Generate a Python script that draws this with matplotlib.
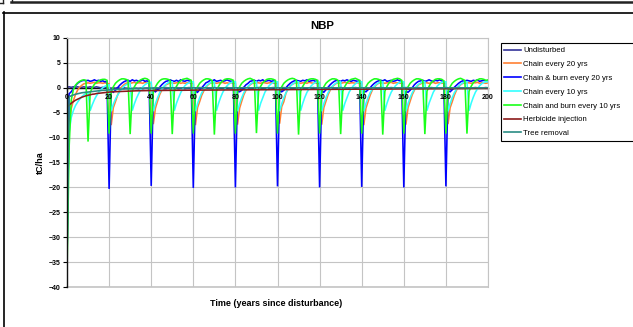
import matplotlib
matplotlib.use("Agg")
import matplotlib.pyplot as plt
from matplotlib.lines import Line2D

plt.rcParams['font.family'] = ['Liberation Sans', 'DejaVu Sans']

# ---------------------------------------------------------------- data
years = list(range(0, 201))

undisturbed = [
    0.1, 0.2, 0.1, 0.2, 0.1, 0.2, 0.1, 0.1, 0.2, 0.1,
    0.1, 0.2, 0.1, 0.1, 0.2, 0.1, 0.0, 0.1, 0.0, 0.1,
    0.0, -0.1, 0.0, -0.1, 0.0, -0.1, -0.1, 0.0, -0.1, -0.1,
    -0.1, -0.2, -0.1, -0.1, -0.2, -0.1, -0.2, -0.1, -0.1, -0.2,
    -0.2, -0.1, -0.3, -0.2, -0.2, -0.1, -0.2, -0.2, -0.1, -0.2,
    -0.1, -0.2, -0.1, -0.2, -0.1, -0.1, -0.2, -0.1, -0.1, -0.1,
    -0.1, -0.2, -0.1, -0.1, 0.0, -0.1, -0.1, 0.0, -0.1, 0.0,
    -0.1, 0.0, -0.1, 0.0, 0.0, -0.1, 0.0, 0.0, -0.1, 0.0,
    0.0, -0.2, -0.3, -0.2, -0.1, 0.0, 0.0, -0.1, 0.0, 0.0,
    0.0, -0.1, 0.0, 0.0, -0.1, 0.0, 0.0, -0.1, 0.0, 0.0,
    -0.1, -0.3, -0.4, -0.2, -0.1, 0.0, -0.1, 0.0, 0.0, -0.1,
    0.0, 0.0, -0.1, 0.0, 0.0, -0.1, 0.0, 0.0, 0.0, -0.1,
    0.0, -0.2, -0.3, -0.2, -0.1, 0.0, 0.0, -0.1, 0.0, 0.0,
    -0.1, 0.0, 0.0, -0.1, 0.0, 0.0, -0.1, 0.0, 0.0, 0.0,
    -0.1, -0.3, -0.3, -0.2, -0.1, 0.0, -0.1, 0.0, 0.0, -0.1,
    0.0, 0.0, -0.1, 0.0, 0.0, 0.0, -0.1, 0.0, 0.0, 0.0,
    0.0, -0.2, -0.3, -0.2, -0.1, 0.0, 0.0, -0.1, 0.0, 0.0,
    -0.1, 0.0, 0.0, 0.0, -0.1, 0.0, 0.0, 0.0, -0.1, 0.0,
    0.0, -0.2, -0.3, -0.2, -0.1, -0.1, 0.0, 0.0, -0.1, 0.0,
    0.0, -0.1, 0.0, 0.0, 0.0, -0.1, 0.0, 0.0, 0.0, -0.1,
    0.0,
]

chain_20 = [
    -28.0, -7.5, -4.2, -2.6, -1.4, -0.5, 0.1, 0.5, 0.8, 0.9,
    1.0, 0.9, 1.0, 1.1, 0.9, 1.0, 1.0, 0.9, 1.0, 0.9,
    0.8, -7.5, -4.0, -2.8, -1.5, -0.5, 0.2, 0.6, 0.9, 1.0,
    0.9, 1.0, 1.1, 0.9, 1.0, 1.0, 0.9, 1.1, 1.0, 0.9,
    0.9, -7.3, -4.1, -2.7, -1.4, -0.5, 0.2, 0.6, 0.8, 1.0,
    1.0, 0.9, 1.0, 1.1, 0.9, 1.0, 0.9, 1.0, 1.0, 0.9,
    0.9, -7.5, -4.0, -2.8, -1.5, -0.6, 0.1, 0.6, 0.9, 1.0,
    1.0, 0.9, 1.0, 1.0, 1.1, 0.9, 1.0, 0.9, 1.0, 1.0,
    0.9, -7.4, -4.1, -2.7, -1.4, -0.5, 0.2, 0.6, 0.9, 0.9,
    1.0, 1.0, 0.9, 1.1, 1.0, 0.9, 1.0, 1.0, 0.9, 1.0,
    0.9, -7.2, -3.8, -2.8, -1.1, -0.2, 0.4, 0.7, 0.9, 1.0,
    1.0, 0.9, 1.0, 1.0, 0.9, 1.1, 1.0, 0.9, 1.0, 0.9,
    0.9, -7.4, -4.0, -2.7, -1.4, -0.5, 0.2, 0.6, 0.9, 1.0,
    0.9, 1.0, 1.1, 1.0, 0.9, 1.0, 1.0, 0.9, 1.0, 1.0,
    0.9, -7.5, -4.1, -2.8, -1.5, -0.5, 0.1, 0.6, 0.9, 1.0,
    1.0, 0.9, 1.0, 1.0, 1.1, 0.9, 1.0, 1.0, 0.9, 1.0,
    0.9, -7.4, -4.0, -2.7, -1.4, -0.5, 0.2, 0.6, 0.8, 1.0,
    1.0, 1.0, 0.9, 1.0, 1.1, 0.9, 1.0, 1.0, 0.9, 1.0,
    0.9, -7.3, -4.0, -2.8, -1.5, -0.5, 0.2, 0.6, 0.9, 0.9,
    1.0, 1.0, 0.9, 1.0, 1.0, 1.1, 0.9, 1.0, 1.0, 0.9,
    1.0,
]

chain_burn_20 = [
    -35.0, -1.2, -0.8, -0.2, 0.4, 0.9, 1.2, 1.4, 1.5, 1.4,
    1.5, 1.3, 1.4, 1.6, 1.4, 1.5, 1.3, 1.4, 1.2, 1.3,
    -20.3, -0.6, -0.9, -0.5, 0.0, 0.5, 0.9, 1.2, 1.4, 1.5,
    1.3, 1.6, 1.4, 1.5, 1.3, 1.4, 1.6, 1.3, 1.4, 1.2,
    -19.7, -0.5, -0.8, -0.4, 0.1, 0.6, 1.0, 1.3, 1.4, 1.6,
    1.4, 1.3, 1.5, 1.3, 1.6, 1.4, 1.3, 1.5, 1.4, 1.3,
    -20.1, -0.6, -0.9, -0.4, 0.0, 0.5, 1.0, 1.2, 1.5, 1.4,
    1.6, 1.3, 1.4, 1.5, 1.3, 1.4, 1.6, 1.4, 1.3, 1.4,
    -20.0, -0.7, -0.8, -0.5, 0.1, 0.6, 0.9, 1.3, 1.4, 1.5,
    1.3, 1.5, 1.4, 1.6, 1.3, 1.4, 1.5, 1.3, 1.4, 1.3,
    -19.8, -0.5, -0.8, -0.5, 0.0, 0.5, 0.9, 1.2, 1.4, 1.5,
    1.4, 1.3, 1.5, 1.4, 1.6, 1.3, 1.4, 1.5, 1.3, 1.4,
    -20.0, -0.6, -0.9, -0.4, 0.1, 0.6, 1.0, 1.3, 1.5, 1.4,
    1.3, 1.5, 1.4, 1.6, 1.4, 1.3, 1.5, 1.4, 1.3, 1.4,
    -19.9, -0.6, -0.8, -0.4, 0.0, 0.5, 0.9, 1.2, 1.4, 1.5,
    1.4, 1.6, 1.3, 1.4, 1.5, 1.3, 1.4, 1.6, 1.4, 1.3,
    -20.0, -0.7, -0.9, -0.5, 0.0, 0.6, 1.0, 1.3, 1.4, 1.5,
    1.3, 1.4, 1.6, 1.4, 1.3, 1.5, 1.4, 1.6, 1.4, 1.3,
    -19.8, -0.6, -0.8, -0.4, 0.1, 0.5, 0.9, 1.2, 1.4, 1.3,
    1.5, 1.4, 1.3, 1.5, 1.4, 1.6, 1.3, 1.4, 1.5, 1.4,
    1.3,
]

chain_10 = [
    -30.0, -9.0, -6.0, -4.6, -3.6, -2.9, -2.3, -1.8, -1.4, -1.1,
    -0.9, -4.6, -3.4, -2.4, -1.6, -0.9, -0.4, 0.0, 0.3, 0.5,
    0.6, -4.7, -3.3, -2.3, -1.5, -0.8, -0.2, 0.3, 0.6, 0.8,
    0.9, -4.6, -3.2, -2.1, -1.2, -0.4, 0.2, 0.6, 0.9, 1.1,
    1.1, -4.7, -3.2, -2.0, -1.0, -0.3, 0.3, 0.7, 1.0, 1.2,
    1.2, -4.6, -3.1, -2.0, -1.0, -0.2, 0.4, 0.8, 1.0, 1.2,
    1.2, -4.7, -3.2, -2.0, -1.0, -0.3, 0.3, 0.7, 1.0, 1.1,
    1.2, -4.6, -3.1, -1.9, -0.9, -0.2, 0.4, 0.8, 1.1, 1.2,
    1.2, -4.7, -3.2, -2.0, -1.0, -0.3, 0.3, 0.7, 1.0, 1.2,
    1.2, -4.6, -3.1, -2.0, -0.9, -0.2, 0.4, 0.8, 1.1, 1.2,
    1.2, -4.7, -3.2, -2.0, -1.0, -0.3, 0.3, 0.7, 1.0, 1.2,
    1.2, -4.6, -3.1, -1.9, -0.9, -0.2, 0.4, 0.8, 1.1, 1.2,
    1.1, -4.7, -3.2, -2.0, -1.0, -0.3, 0.3, 0.7, 1.0, 1.2,
    1.2, -4.6, -3.1, -2.0, -0.9, -0.2, 0.4, 0.8, 1.1, 1.2,
    1.2, -4.7, -3.2, -2.0, -1.0, -0.3, 0.3, 0.7, 1.0, 1.1,
    1.2, -4.6, -3.1, -1.9, -0.9, -0.2, 0.4, 0.8, 1.1, 1.2,
    1.2, -4.7, -3.2, -2.0, -1.0, -0.3, 0.3, 0.7, 1.0, 1.2,
    1.2, -4.6, -3.1, -2.0, -0.9, -0.2, 0.4, 0.8, 1.1, 1.2,
    1.2, -4.7, -3.2, -2.0, -1.0, -0.3, 0.3, 0.7, 1.0, 1.2,
    1.2, -4.6, -3.1, -1.9, -0.9, -0.2, 0.4, 0.8, 1.1, 1.2,
    1.2,
]

chain_burn_10 = [
    -37.0, -12.0, -2.5, -0.4, 0.5, 1.0, 1.3, 1.5, 1.6, 1.5,
    -10.8, -1.0, 0.0, 0.7, 1.1, 1.4, 1.6, 1.7, 1.7, 1.5,
    -9.2, -0.8, 0.2, 0.9, 1.3, 1.6, 1.8, 1.8, 1.7, 1.5,
    -9.3, -0.7, 0.2, 0.9, 1.3, 1.6, 1.8, 1.9, 1.8, 1.5,
    -9.2, -0.8, 0.2, 0.9, 1.4, 1.7, 1.8, 1.8, 1.7, 1.5,
    -9.3, -0.7, 0.3, 1.0, 1.4, 1.7, 1.8, 1.9, 1.7, 1.5,
    -9.2, -0.8, 0.2, 0.9, 1.3, 1.6, 1.8, 1.8, 1.7, 1.4,
    -9.4, -0.7, 0.3, 1.0, 1.4, 1.7, 1.8, 1.8, 1.7, 1.5,
    -9.2, -0.8, 0.2, 0.9, 1.3, 1.6, 1.8, 1.9, 1.7, 1.5,
    -9.1, -0.7, 0.3, 1.0, 1.4, 1.7, 1.8, 1.8, 1.7, 1.5,
    -9.2, -0.8, 0.2, 0.9, 1.3, 1.6, 1.8, 1.9, 1.8, 1.5,
    -9.4, -0.7, 0.3, 1.0, 1.4, 1.7, 1.8, 1.8, 1.7, 1.5,
    -9.2, -0.8, 0.2, 0.9, 1.3, 1.6, 1.8, 1.8, 1.7, 1.4,
    -9.3, -0.7, 0.3, 1.0, 1.4, 1.7, 1.8, 1.9, 1.7, 1.5,
    -9.2, -0.8, 0.2, 0.9, 1.3, 1.6, 1.8, 1.8, 1.7, 1.5,
    -9.4, -0.7, 0.3, 1.0, 1.4, 1.7, 1.8, 1.9, 1.8, 1.5,
    -9.2, -0.8, 0.2, 0.9, 1.3, 1.6, 1.8, 1.8, 1.7, 1.5,
    -9.3, -0.7, 0.3, 1.0, 1.4, 1.7, 1.8, 1.8, 1.7, 1.4,
    -9.2, -0.8, 0.2, 0.9, 1.3, 1.6, 1.8, 1.9, 1.7, 1.5,
    -9.2, -0.7, 0.3, 1.0, 1.4, 1.6, 1.8, 1.8, 1.7, 1.5,
    1.6,
]

herbicide = [
    -3.9, -3.5, -3.1, -2.8, -2.5, -2.3, -2.1, -1.9, -1.75, -1.6,
    -1.5, -1.4, -1.3, -1.25, -1.15, -1.1, -1.05, -1.0, -0.95, -0.9,
    -0.85, -0.82, -0.8, -0.77, -0.75, -0.72, -0.7, -0.68, -0.66, -0.65,
    -0.63, -0.62, -0.61, -0.6, -0.59, -0.58, -0.57, -0.57, -0.56, -0.56,
    -0.55, -0.55, -0.54, -0.54, -0.53, -0.53, -0.52, -0.52, -0.52, -0.51,
    -0.51, -0.5, -0.5, -0.5, -0.49, -0.49, -0.49, -0.48, -0.48, -0.48,
    -0.47, -0.47, -0.47, -0.46, -0.46, -0.46, -0.46, -0.45, -0.45, -0.45,
    -0.45, -0.44, -0.44, -0.44, -0.44, -0.43, -0.43, -0.43, -0.43, -0.42,
    -0.42, -0.42, -0.42, -0.41, -0.41, -0.41, -0.41, -0.40, -0.40, -0.40,
    -0.40, -0.39, -0.39, -0.39, -0.39, -0.38, -0.38, -0.38, -0.38, -0.37,
    -0.37, -0.37, -0.37, -0.36, -0.36, -0.36, -0.36, -0.35, -0.35, -0.35,
    -0.35, -0.34, -0.34, -0.34, -0.34, -0.33, -0.33, -0.33, -0.33, -0.32,
    -0.32, -0.32, -0.32, -0.31, -0.31, -0.31, -0.31, -0.30, -0.30, -0.30,
    -0.30, -0.29, -0.29, -0.29, -0.29, -0.28, -0.28, -0.28, -0.28, -0.27,
    -0.27, -0.27, -0.27, -0.26, -0.26, -0.26, -0.26, -0.25, -0.25, -0.25,
    -0.25, -0.24, -0.24, -0.24, -0.24, -0.23, -0.23, -0.23, -0.23, -0.22,
    -0.22, -0.22, -0.22, -0.21, -0.21, -0.21, -0.21, -0.20, -0.20, -0.20,
    -0.20, -0.19, -0.19, -0.19, -0.19, -0.18, -0.18, -0.18, -0.18, -0.17,
    -0.17, -0.17, -0.17, -0.16, -0.16, -0.16, -0.16, -0.15, -0.15, -0.15,
    -0.15, -0.14, -0.14, -0.14, -0.14, -0.13, -0.13, -0.13, -0.13, -0.12,
    -0.12,
]

tree_removal = [
    -35.0, -1.8, -1.6, -1.45, -1.3, -1.2, -1.1, -1.0, -0.95, -0.9,
    -0.85, -0.8, -0.75, -0.7, -0.65, -0.6, -0.55, -0.5, -0.5, -0.45,
    -0.4, -0.4, -0.35, -0.35, -0.3, -0.3, -0.25, -0.25, -0.2, -0.2,
    -0.2, -0.15, -0.15, -0.15, -0.1, -0.1, -0.1, -0.1, -0.05, -0.05,
    -0.05, -0.05, 0.0, 0.0, 0.0, 0.0, 0.0, 0.05, 0.0, 0.0,
    0.0, 0.0, 0.05, 0.0, 0.0, 0.0, 0.0, 0.0, 0.05, 0.0,
    0.0, 0.0, 0.0, 0.05, 0.0, 0.0, 0.0, 0.0, 0.0, 0.0,
    0.05, 0.0, 0.0, 0.0, 0.0, 0.0, 0.05, 0.0, 0.0, 0.0,
    0.0, 0.0, 0.0, 0.0, 0.05, 0.0, 0.0, 0.0, 0.0, 0.0,
    0.0, 0.05, 0.0, 0.0, 0.0, 0.0, 0.0, 0.0, 0.05, 0.0,
    0.0, 0.0, 0.0, 0.05, 0.0, 0.0, 0.0, 0.0, 0.0, 0.0,
    0.0, 0.0, 0.05, 0.0, 0.0, 0.0, 0.0, 0.05, 0.0, 0.0,
    0.0, 0.0, 0.0, 0.0, 0.0, 0.05, 0.0, 0.0, 0.0, 0.0,
    0.05, 0.0, 0.0, 0.0, 0.0, 0.0, 0.0, 0.05, 0.0, 0.0,
    0.0, 0.0, 0.05, 0.0, 0.0, 0.0, 0.0, 0.0, 0.0, 0.05,
    0.0, 0.0, 0.0, 0.0, 0.05, 0.0, 0.0, 0.0, 0.0, 0.0,
    0.0, 0.05, 0.0, 0.0, 0.0, 0.0, 0.0, 0.05, 0.0, 0.0,
    0.0, 0.0, 0.0, 0.05, 0.0, 0.0, 0.0, 0.0, 0.0, 0.0,
    0.05, 0.0, 0.0, 0.0, 0.0, 0.0, 0.05, 0.0, 0.0, 0.0,
    0.0, 0.0, 0.0, 0.0, 0.05, 0.0, 0.0, 0.0, 0.0, 0.05,
    0.0,
]

series_labels = [
    "Undisturbed",
    "Chain every 20 yrs",
    "Chain & burn every 20 yrs",
    "Chain every 10 yrs",
    "Chain and burn every 10 yrs",
    "Herbicide injection",
    "Tree removal",
]
series_values = [undisturbed, chain_20, chain_burn_20, chain_10,
                 chain_burn_10, herbicide, tree_removal]
series_colors = ["#333399", "#FF8033", "#0000FF", "#33FFFF",
                 "#1AFF1A", "#8B1A1A", "#2A8C84"]

x_ticks = list(range(0, 201, 20))
y_ticks = list(range(-40, 11, 5))

# ---------------------------------------------------------------- figure
W, H = 633, 327
fig = plt.figure(figsize=(W / 100, H / 100), dpi=100)
fig.patch.set_facecolor("white")


def fx(px):
    return px / W


def fy(py):
    return 1 - py / H


# outer chart border and the strip above it
fig.add_artist(Line2D([fx(3.5), fx(3.5)], [fy(12), fy(H + 2)], color="black", lw=1.2))
fig.add_artist(Line2D([fx(3), fx(W + 2)], [fy(12.5), fy(12.5)], color="black", lw=1.2))
fig.add_artist(Line2D([fx(11), fx(W + 2)], [fy(1.8), fy(1.8)], color="#222222", lw=1.8))
fig.add_artist(Line2D([fx(11.5), fx(11.5)], [fy(-1), fy(2)], color="#222222", lw=1.0))
fig.add_artist(Line2D([fx(0), fx(2.5)], [fy(2.5), fy(2.5)], color="#222222", lw=1.0))
fig.add_artist(Line2D([fx(2.5), fx(2.5)], [fy(-1), fy(2.5)], color="#222222", lw=1.0))

ax = fig.add_axes([fx(67), fy(287), fx(488) - fx(67), fy(38) - fy(287)])
ax.set_xlim(0, 200)
ax.set_ylim(-40, 10)
ax.set_xticks(x_ticks)
ax.set_yticks(y_ticks)
ax.set_xticklabels([])
ax.grid(True, color="#C4C4C4", lw=0.8)
ax.set_axisbelow(True)

for name, vals, col in zip(series_labels, series_values, series_colors):
    ax.plot(years, vals, color=col, lw=1.15, label=name, zorder=2,
            solid_joinstyle="miter")

ax.spines["bottom"].set_position(("data", 0))
ax.spines["bottom"].set_color("#111111")
ax.spines["bottom"].set_linewidth(1.0)
ax.spines["bottom"].set_zorder(1.8)
ax.spines["left"].set_color("#111111")
ax.spines["left"].set_linewidth(1.0)
for s in ("top", "right"):
    ax.spines[s].set_color("#C4C4C4")
    ax.spines[s].set_linewidth(0.8)
ax.axhline(-40, color="#C4C4C4", lw=1.2, clip_on=False, zorder=0.5)

ax.tick_params(axis="x", direction="out", length=2, width=0.8, colors="black")
ax.tick_params(axis="y", direction="out", length=3, width=0.8,
               labelsize=5, pad=1.5, colors="black")
for lbl in ax.get_yticklabels():
    lbl.set_fontweight("bold")

# category labels sit just under the zero axis, drawn above the series
for t in x_ticks:
    ax.annotate(str(t), xy=(t, 0), xytext=(0, -7), textcoords="offset points",
                ha="center", va="center", fontsize=5, fontweight="bold",
                zorder=10, annotation_clip=False)

fig.text(fx(322), fy(26), "NBP", ha="center", va="center",
         fontsize=8.2, fontweight="bold")
fig.text(fx(276), fy(303), "Time (years since disturbance)", ha="center",
         va="center", fontsize=6.5, fontweight="bold")
fig.text(fx(40), fy(163), "tC/ha", ha="center", va="center",
         rotation=90, fontsize=6.5, fontweight="bold")

handles, labels = ax.get_legend_handles_labels()
leg = fig.legend(handles, labels, loc="upper left",
                 bbox_to_anchor=(fx(500.7), fy(140), fx(660) - fx(500.7), fy(43.3) - fy(140)),
                 bbox_transform=fig.transFigure, mode="expand", fontsize=5.6,
                 frameon=True, fancybox=False, edgecolor="black",
                 framealpha=1, borderpad=0.45, labelspacing=0.82,
                 handlelength=2.2, handletextpad=0.25, borderaxespad=0)
leg.get_frame().set_linewidth(0.8)
for ln in leg.get_lines():
    ln.set_linewidth(1.2)

fig.savefig("out.png", dpi=100, facecolor="white")
